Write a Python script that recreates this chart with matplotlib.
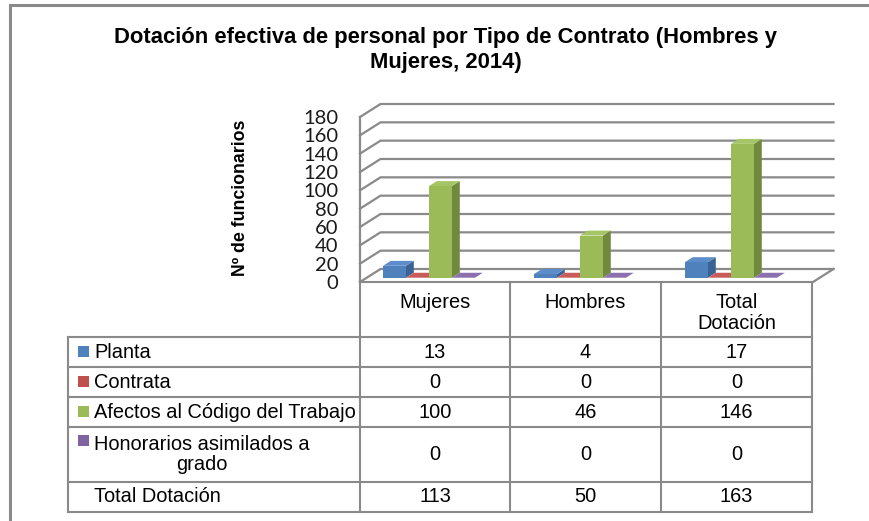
import matplotlib
matplotlib.use('Agg')
import matplotlib.pyplot as plt
from matplotlib.patches import Polygon, Rectangle

# Data
categories = ['Mujeres', 'Hombres', 'Total\nDotación']
series_names = ['Planta', 'Contrata', 'Afectos al Código del Trabajo', 'Honorarios asimilados a\ngrado']
planta = [13, 4, 17]
contrata = [0, 0, 0]
afectos = [100, 46, 146]
honorarios = [0, 0, 0]
total_label = 'Total Dotación'
total_dotacion = [113, 50, 163]
yticks = list(range(0, 181, 20))
title = 'Dotación efectiva de personal por Tipo de Contrato (Hombres y\nMujeres, 2014)'
ylabel = 'Nº de funcionarios'

series_values = [planta, contrata, afectos, honorarios]

# Colors (front, side, top)
face_cols = ['#4f81bd', '#c0504d', '#9bbb59', '#8064a2']
side_cols = ['#3b6295', '#943d3a', '#71893f', '#5e4a7b']
top_cols = ['#5d8dca', '#c95c59', '#a5c566', '#8b70ad']
grid_col = '#8a8a8a'

W, H = 870, 521
fig = plt.figure(figsize=(W / 100, H / 100), dpi=100, facecolor='white')

# main 3d-looking plot, front plane from x=360..813 px, y=117..282 px
ax = fig.add_axes([360 / W, (H - 282) / H, (813 - 360) / W, (282 - 117) / H])
ax.set_xlim(-0.5, 2.5)
ax.set_ylim(0, 180)
ax.patch.set_alpha(0)
for s in ax.spines.values():
    s.set_visible(False)
ax.set_xticks([])
ax.set_yticks(yticks)
ax.tick_params(axis='y', length=0, pad=15.5, labelsize=14.5, labelcolor='#1a1a1a')
for lab in ax.get_yticklabels():
    lab.set_family('Lato')

# depth of the floor in data units (about 20.5 px right, 13 px up)
dx = 20.5 * 3 / 453
dy = 13 * 180 / 165

# back wall + side wall gridlines
for v in yticks:
    ax.plot([-0.5, -0.5 + dx, 2.5 + dx], [v, v + dy, v + dy], color=grid_col, lw=1.6,
            clip_on=False, zorder=1, solid_joinstyle='miter')
ax.plot([-0.5, -0.5], [0, 180], color=grid_col, lw=1.6, clip_on=False, zorder=1)
ax.plot([2.5, 2.5 + dx], [0, dy], color=grid_col, lw=1.6, clip_on=False, zorder=1)

# bars
bw = 23 * 3 / 453
first = 23 * 3 / 453
fd = 0.33
bd = 0.38
for c in range(len(categories)):
    for i, vals in enumerate(series_values):
        h = vals[c]
        x0 = c - 0.5 + first + i * bw
        b = fd * dy
        ox, oy = bd * dx, bd * dy
        if h > 0:
            ax.bar(x0, h, width=bw, bottom=b, align='edge', color=face_cols[i],
                   edgecolor='none', zorder=3 + c * 4 + i, clip_on=False)
            ax.add_patch(Polygon([(x0 + bw, b), (x0 + bw + ox, b + oy), (x0 + bw + ox, b + h + oy),
                                  (x0 + bw, b + h)], closed=True, color=side_cols[i], lw=0,
                                 zorder=3 + c * 4 + i, clip_on=False))
        ax.add_patch(Polygon([(x0, b + h), (x0 + bw, b + h), (x0 + bw + ox, b + h + oy),
                              (x0 + ox, b + h + oy)], closed=True, color=top_cols[i], lw=0,
                             zorder=3 + c * 4 + i, clip_on=False))

# overlay in pixel coords for frame, title and data table
ov = fig.add_axes([0, 0, 1, 1])
ov.set_xlim(0, W)
ov.set_ylim(H, 0)
ov.axis('off')
ov.patch.set_alpha(0)

ov.plot([10, 10, W], [H, 5, 5], color=grid_col, lw=2.2, solid_joinstyle='miter')

ov.text(446, 50, title, ha='center', va='center', fontsize=15.8, fontweight='bold',
        family='Liberation Sans', linespacing=1.2)
ov.text(241, 198, ylabel, ha='center', va='center', rotation=90, fontsize=12.8,
        fontweight='bold', family='Liberation Sans')

# table grid
col_x = [68, 360, 510, 661, 812]
row_y = [282, 337, 367, 397, 427, 482, 512]
lw_t = 1.5
ov.plot([col_x[1], col_x[-1]], [row_y[0], row_y[0]], color=grid_col, lw=lw_t)
for y in row_y[1:]:
    ov.plot([col_x[0], col_x[-1]], [y, y], color=grid_col, lw=lw_t)
ov.plot([col_x[0], col_x[0]], [row_y[1], row_y[-1]], color=grid_col, lw=lw_t)
for x in col_x[1:]:
    ov.plot([x, x], [row_y[0], row_y[-1]], color=grid_col, lw=lw_t)

tfont = dict(fontsize=14.4, family='Liberation Sans', color='black')
col_c = [(col_x[k] + col_x[k + 1]) / 2 for k in range(1, 4)]

# category header
for k, cat in enumerate(categories):
    ov.text(col_c[k], 293, cat, ha='center', va='top', linespacing=1.15, **tfont)

row_c = [(row_y[k] + row_y[k + 1]) / 2 for k in range(1, 6)]
for r, name in enumerate(series_names):
    yc = row_c[r]
    if '\n' in name:
        ov.add_patch(Rectangle((78, 435), 11, 11, color=face_cols[r], lw=0))
        ov.text(202, yc, name, ha='center', va='center', multialignment='center',
                linespacing=1.1, **tfont)
    else:
        ov.add_patch(Rectangle((78, yc - 6), 11, 11, color=face_cols[r], lw=0))
        ov.text(94, yc, name, ha='left', va='center', **tfont)
    for k in range(3):
        ov.text(col_c[k], yc, str(series_values[r][k]), ha='center', va='center', **tfont)

ov.text(94, row_c[4], total_label, ha='left', va='center', **tfont)
for k in range(3):
    ov.text(col_c[k], row_c[4], str(total_dotacion[k]), ha='center', va='center', **tfont)

fig.savefig('out.png', dpi=100, facecolor='white')
